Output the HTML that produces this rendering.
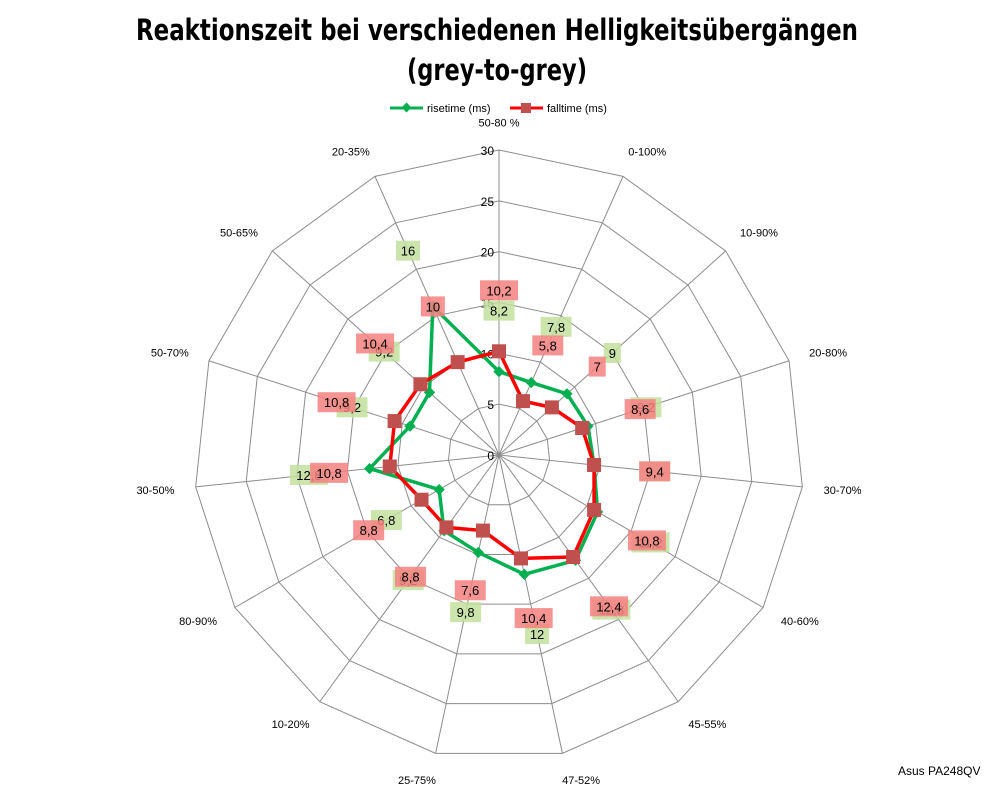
<!DOCTYPE html>
<html><head><meta charset="utf-8"><style>
html,body{margin:0;padding:0;background:#fff;}
svg{display:block;font-family:"Liberation Sans",sans-serif;}
</style></head><body>
<svg id="chart" width="998" height="786" viewBox="0 0 998 786" xmlns="http://www.w3.org/2000/svg">
<text x="497" y="40" text-anchor="middle" font-size="29" font-weight="bold" font-family="'DejaVu Sans','Liberation Sans',sans-serif" textLength="722" lengthAdjust="spacingAndGlyphs">Reaktionszeit bei verschiedenen Helligkeitsübergängen</text>
<text x="497" y="80" text-anchor="middle" font-size="29" font-weight="bold" font-family="'DejaVu Sans','Liberation Sans',sans-serif" textLength="180" lengthAdjust="spacingAndGlyphs">(grey-to-grey)</text>
<g>
 <g>
  <line x1="390" y1="108" x2="423" y2="108" stroke="#00b050" stroke-width="3"/>
  <rect x="403" y="104" width="7" height="7" fill="#00b050" transform="rotate(45 406.5 107.5)"/>
  <text x="427" y="112" font-size="11">risetime (ms)</text>
 </g>
 <g>
  <line x1="510" y1="108" x2="543" y2="108" stroke="#ff0000" stroke-width="3"/>
  <rect x="521" y="103" width="10" height="10" fill="#c0504d"/>
  <text x="547" y="112" font-size="11">falltime (ms)</text>
 </g>
</g>
<g id="grid"></g>
<g id="series"></g>
<g id="labels"></g>
<text x="898" y="775" font-size="12">Asus PA248QV</text>
</svg>
<script>
const categories = ["50-80 %","0-100%","10-90%","20-80%","30-70%","40-60%","45-55%","47-52%","25-75%","10-20%","80-90%","30-50%","50-70%","50-65%","20-35%"];
const risetime = [8.2,7.8,9,9.2,9.4,11.2,12.8,12,9.8,9.2,6.8,12.8,9.2,9.2,16];
const falltime = [10.2,5.8,7,8.6,9.4,10.8,12.4,10.4,7.6,8.8,8.8,10.8,10.8,10.4,10];
const riseLabels = ["8,2","7,8","9","9,2","9,4","11,2","12,8","12","9,8","9,2","6,8","12,8","9,2","9,2","16"];
const fallLabels = ["10,2","5,8","7","8,6","9,4","10,8","12,4","10,4","7,6","8,8","8,8","10,8","10,8","10,4","10"];
const ticks = [0,5,10,15,20,25,30];

const NS="http://www.w3.org/2000/svg";
const cx=499, cy=455, R=305, maxV=30;
const n=categories.length;
function ang(i){return i*2*Math.PI/n;}
function pt(i,v){const r=v/maxV*R;return [cx+r*Math.sin(ang(i)), cy-r*Math.cos(ang(i))];}
function mk(tag,attrs,parent){const e=document.createElementNS(NS,tag);for(const k in attrs)e.setAttribute(k,attrs[k]);parent.appendChild(e);return e;}
const grid=document.getElementById('grid');
ticks.forEach(t=>{ if(t===0)return;
 const p=[];for(let i=0;i<n;i++)p.push(pt(i,t).join(','));
 const e=mk('polygon',{points:p.join(' '),fill:'none',stroke:'#8c8c8c','stroke-width':1},grid);
 
 
});
for(let i=0;i<n;i++){
 const [x,y]=pt(i,maxV);
 const e=mk('line',{x1:cx,y1:cy,x2:x,y2:y,stroke:'#8c8c8c','stroke-width':1},grid);
 
 
 const lr=maxV*1.09;
 const [lx,ly]=pt(i,lr);
 const s=Math.sin(ang(i));
 const anchor=s>0.15?'start':(s<-0.15?'end':'middle');
 const tx=mk('text',{x:lx+(anchor==='start'?-6:anchor==='end'?6:0),y:ly+4,'font-size':11,'text-anchor':anchor},grid);
 tx.textContent=categories[i];
 
 
}
ticks.forEach(t=>{
 const [x,y]=pt(0,t);
 const e=mk('text',{x:x-5,y:y+5,'font-size':12,'text-anchor':'end'},grid);
 e.textContent=t;
 
 
});
const ser=document.getElementById('series');
function drawSeries(vals,color,name,marker){
 const p=vals.map((v,i)=>pt(i,v).join(','));
 const pl=mk('polygon',{points:p.join(' '),fill:'none',stroke:color,'stroke-width':3.5,'stroke-linejoin':'round'},ser);
 
 
 vals.forEach((v,i)=>{
  const [x,y]=pt(i,v);
  let m;
  if(marker==='diamond'){m=mk('rect',{x:x-4,y:y-4,width:8,height:8,fill:'#00b050',transform:'rotate(45 '+x+' '+y+')'},ser);}
  else{m=mk('rect',{x:x-7,y:y-7,width:14,height:14,fill:'#c0504d'},ser);}
  
  
 });
}
drawSeries(risetime,'#00b050','risetime','diamond');
drawSeries(falltime,'#ff0000','falltime','square');
const lab=document.getElementById('labels');
function drawLabels(vals,texts,fill,name){
 vals.forEach((v,i)=>{
  const [x,y]=pt(i,v+6);
  const w=texts[i].length*7+10;
  const r=mk('rect',{x:x-w/2,y:y-10,width:w,height:20,fill:fill,opacity:0.85},lab);
  
  
  const t=mk('text',{x:x,y:y+5,'font-size':13,'text-anchor':'middle'},lab);
  t.textContent=texts[i];
  
  
 });
}
drawLabels(risetime,riseLabels,'#c3e09e','risetime');
drawLabels(falltime,fallLabels,'#f58080','falltime');
</script>
</body></html>
